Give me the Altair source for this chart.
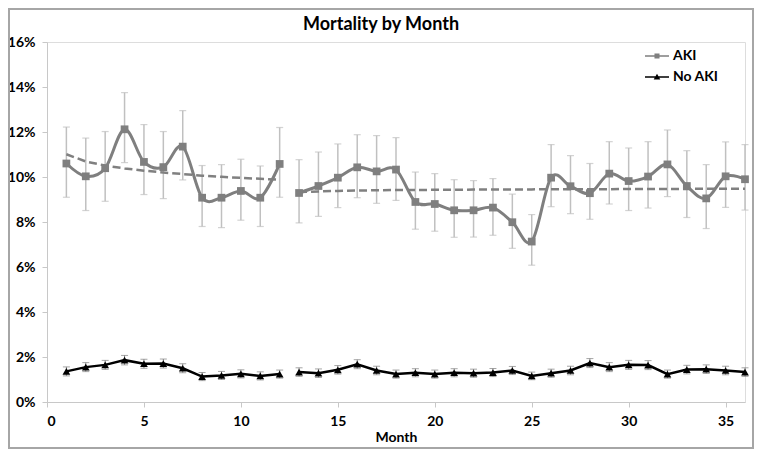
import altair as alt
import pandas as pd

months = list(range(1, 37))
seg = [1] * 12 + [2] * 24

aki = [10.60, 10.03, 10.39, 12.12, 10.67, 10.44, 11.35, 9.08, 9.08, 9.38, 9.08, 10.58,
       9.29, 9.60, 9.97, 10.43, 10.25, 10.33, 8.89, 8.80, 8.52, 8.52, 8.64, 7.99,
       7.13, 9.97, 9.59, 9.28, 10.15, 9.82, 10.02, 10.56, 9.60, 9.05, 10.03, 9.90]
aki_hi = [12.22, 11.73, 12.02, 13.75, 12.33, 12.02, 12.95, 10.51, 10.55, 10.79, 10.49, 12.20,
          10.77, 11.11, 11.47, 11.88, 11.84, 11.75, 10.22, 10.15, 9.88, 9.84, 9.93, 9.24,
          8.33, 11.44, 10.95, 10.60, 11.57, 11.29, 11.57, 12.09, 11.17, 10.55, 11.56, 11.44]
aki_lo = [9.10, 8.51, 8.92, 10.64, 9.22, 9.04, 9.87, 7.80, 7.75, 8.08, 7.80, 9.10,
          7.96, 8.25, 8.64, 9.08, 8.83, 8.96, 7.68, 7.59, 7.32, 7.33, 7.41, 6.83,
          6.08, 8.68, 8.37, 8.12, 8.80, 8.51, 8.62, 9.13, 8.20, 7.71, 8.65, 8.53]
aki_trend = [11.01, 10.69, 10.51, 10.38, 10.28, 10.20, 10.13, 10.06, 10.01, 9.96, 9.92, 9.88,
             9.33, 9.36, 9.38, 9.40, 9.41, 9.42, 9.42, 9.43, 9.43, 9.44, 9.44, 9.45,
             9.45, 9.46, 9.46, 9.46, 9.46, 9.47, 9.47, 9.47, 9.47, 9.48, 9.48, 9.48]

noaki = [1.36, 1.55, 1.65, 1.86, 1.70, 1.71, 1.50, 1.13, 1.18, 1.25, 1.16, 1.24,
         1.33, 1.28, 1.43, 1.68, 1.40, 1.24, 1.30, 1.24, 1.30, 1.28, 1.31, 1.40,
         1.16, 1.28, 1.40, 1.73, 1.55, 1.65, 1.64, 1.24, 1.44, 1.46, 1.40, 1.33]
noaki_err = [0.20, 0.20, 0.20, 0.21, 0.20, 0.20, 0.20, 0.18, 0.18, 0.18, 0.18, 0.18,
             0.19, 0.19, 0.19, 0.20, 0.19, 0.18, 0.18, 0.18, 0.18, 0.18, 0.18, 0.18,
             0.17, 0.18, 0.19, 0.20, 0.20, 0.20, 0.20, 0.18, 0.19, 0.19, 0.19, 0.19]

series_names = ["AKI", "No AKI"]
series_colors = ["#7f7f7f", "#000000"]
legend_shapes = [
    "M-2,-0.14H2V0.14H-2Z M-0.42,-0.42H0.42V0.42H-0.42Z",
    "M-2,-0.14H2V0.14H-2Z M0,-0.55L0.55,0.42H-0.55Z",
]
x_ticks = [0, 5, 10, 15, 20, 25, 30, 35]
y_ticks = [0, 2, 4, 6, 8, 10, 12, 14, 16]
chart_title = "Mortality by Month"

df = pd.DataFrame({
    "month": months, "seg": seg,
    "aki": aki, "aki_lo": aki_lo, "aki_hi": aki_hi, "trend": aki_trend,
    "noaki": noaki,
    "noaki_lo": [v - e for v, e in zip(noaki, noaki_err)],
    "noaki_hi": [v + e for v, e in zip(noaki, noaki_err)],
})

FONT = "Lato"
W, H = 698, 360
PAD = {"left": 39, "top": 34, "right": 9, "bottom": 47}

xs = alt.X("month:Q", scale=alt.Scale(domain=[0, 36], nice=False),
           axis=alt.Axis(values=x_ticks, title="Month", grid=False,
                         labelFont=FONT, labelFontSize=14, labelFontWeight="bold",
                         labelColor="#000000", labelPadding=7,
                         titleFont=FONT, titleFontSize=14, titleFontWeight="bold",
                         titleColor="#000000", titlePadding=2,
                         domainColor="#c8c8c8", tickColor="#c8c8c8", tickSize=5))
yscale = alt.Scale(domain=[0, 16], nice=False)
yaxis = alt.Axis(values=y_ticks, title=None, grid=False,
                 labelExpr="datum.value + '%'",
                 labelFont=FONT, labelFontSize=14, labelFontWeight="bold",
                 labelColor="#000000", labelPadding=7,
                 domainColor="#c8c8c8", tickColor="#c8c8c8", tickSize=5)

base = alt.Chart(df)

aki_rule = base.mark_rule(color="#c0c0c0", strokeWidth=1.5).encode(
    x=xs, y=alt.Y("aki_lo:Q", scale=yscale, axis=yaxis), y2="aki_hi:Q")
aki_cap_lo = base.mark_tick(orient="horizontal", color="#c0c0c0", thickness=1.2, size=7).encode(
    x="month:Q", y="aki_lo:Q")
aki_cap_hi = base.mark_tick(orient="horizontal", color="#c0c0c0", thickness=1.2, size=7).encode(
    x="month:Q", y="aki_hi:Q")
trend = base.mark_line(color="#808080", strokeWidth=2.5, strokeDash=[8, 4]).encode(
    x="month:Q", y="trend:Q", detail="seg:N")
aki_line = base.mark_line(color="#7f7f7f", strokeWidth=3, interpolate="cardinal").encode(
    x="month:Q", y="aki:Q", detail="seg:N")
aki_pts = base.mark_point(shape="square", filled=True, size=60, color="#7f7f7f", opacity=1).encode(
    x="month:Q", y="aki:Q")

no_rule = base.mark_rule(color="#7f7f7f", strokeWidth=1).encode(
    x="month:Q", y="noaki_lo:Q", y2="noaki_hi:Q")
no_cap_lo = base.mark_tick(orient="horizontal", color="#7f7f7f", thickness=1, size=7).encode(
    x="month:Q", y="noaki_lo:Q")
no_cap_hi = base.mark_tick(orient="horizontal", color="#7f7f7f", thickness=1, size=7).encode(
    x="month:Q", y="noaki_hi:Q")
no_line = base.mark_line(color="#000000", strokeWidth=2.5).encode(
    x="month:Q", y="noaki:Q", detail="seg:N")
no_pts = base.mark_point(shape="triangle-up", filled=True, size=60, color="#000000", opacity=1).encode(
    x="month:Q", y="noaki:Q")

legend_df = pd.DataFrame({"series": series_names, "month": [-1, -1], "v": [0, 0]})
legend_layer = alt.Chart(legend_df).transform_filter("datum.month > 0").mark_point(
    filled=True, opacity=1).encode(
    x="month:Q", y="v:Q",
    color=alt.Color("series:N", scale=alt.Scale(domain=series_names, range=series_colors),
                    legend=alt.Legend(title=None, orient="none", legendX=603, legendY=7,
                                      labelFont=FONT, labelFontSize=14, labelFontWeight="bold",
                                      labelColor="#000000", symbolSize=144, labelOffset=9,
                                      rowPadding=7, padding=0, symbolStrokeWidth=0)),
    shape=alt.Shape("series:N", scale=alt.Scale(domain=series_names, range=legend_shapes)),
)

one_row = pd.DataFrame({"t": [chart_title]})
frame = alt.Chart(one_row).mark_rect(
    fill=None, stroke="#a6a6a6", strokeWidth=2).encode(
    x=alt.value(-PAD["left"] + 1), x2=alt.value(W + PAD["right"] - 1),
    y=alt.value(-PAD["top"] + 1), y2=alt.value(H + PAD["bottom"] - 1))

title_mark = alt.Chart(one_row).mark_text(
    font=FONT, fontSize=18, fontWeight="bold", color="#000000",
    align="center", baseline="middle").encode(
    text="t:N", x=alt.value(W / 2 - 15), y=alt.value(-17))

chart = alt.layer(
    aki_rule, aki_cap_lo, aki_cap_hi, trend, aki_line, aki_pts,
    no_rule, no_cap_lo, no_cap_hi, no_line, no_pts, legend_layer, frame, title_mark
).properties(
    width=W, height=H,
    autosize=alt.AutoSizeParams(type="none"),
    padding=PAD,
).configure_view(stroke=None).configure(background="#ffffff")

chart.save("out.html", embed_options={"renderer": "svg", "actions": False})
